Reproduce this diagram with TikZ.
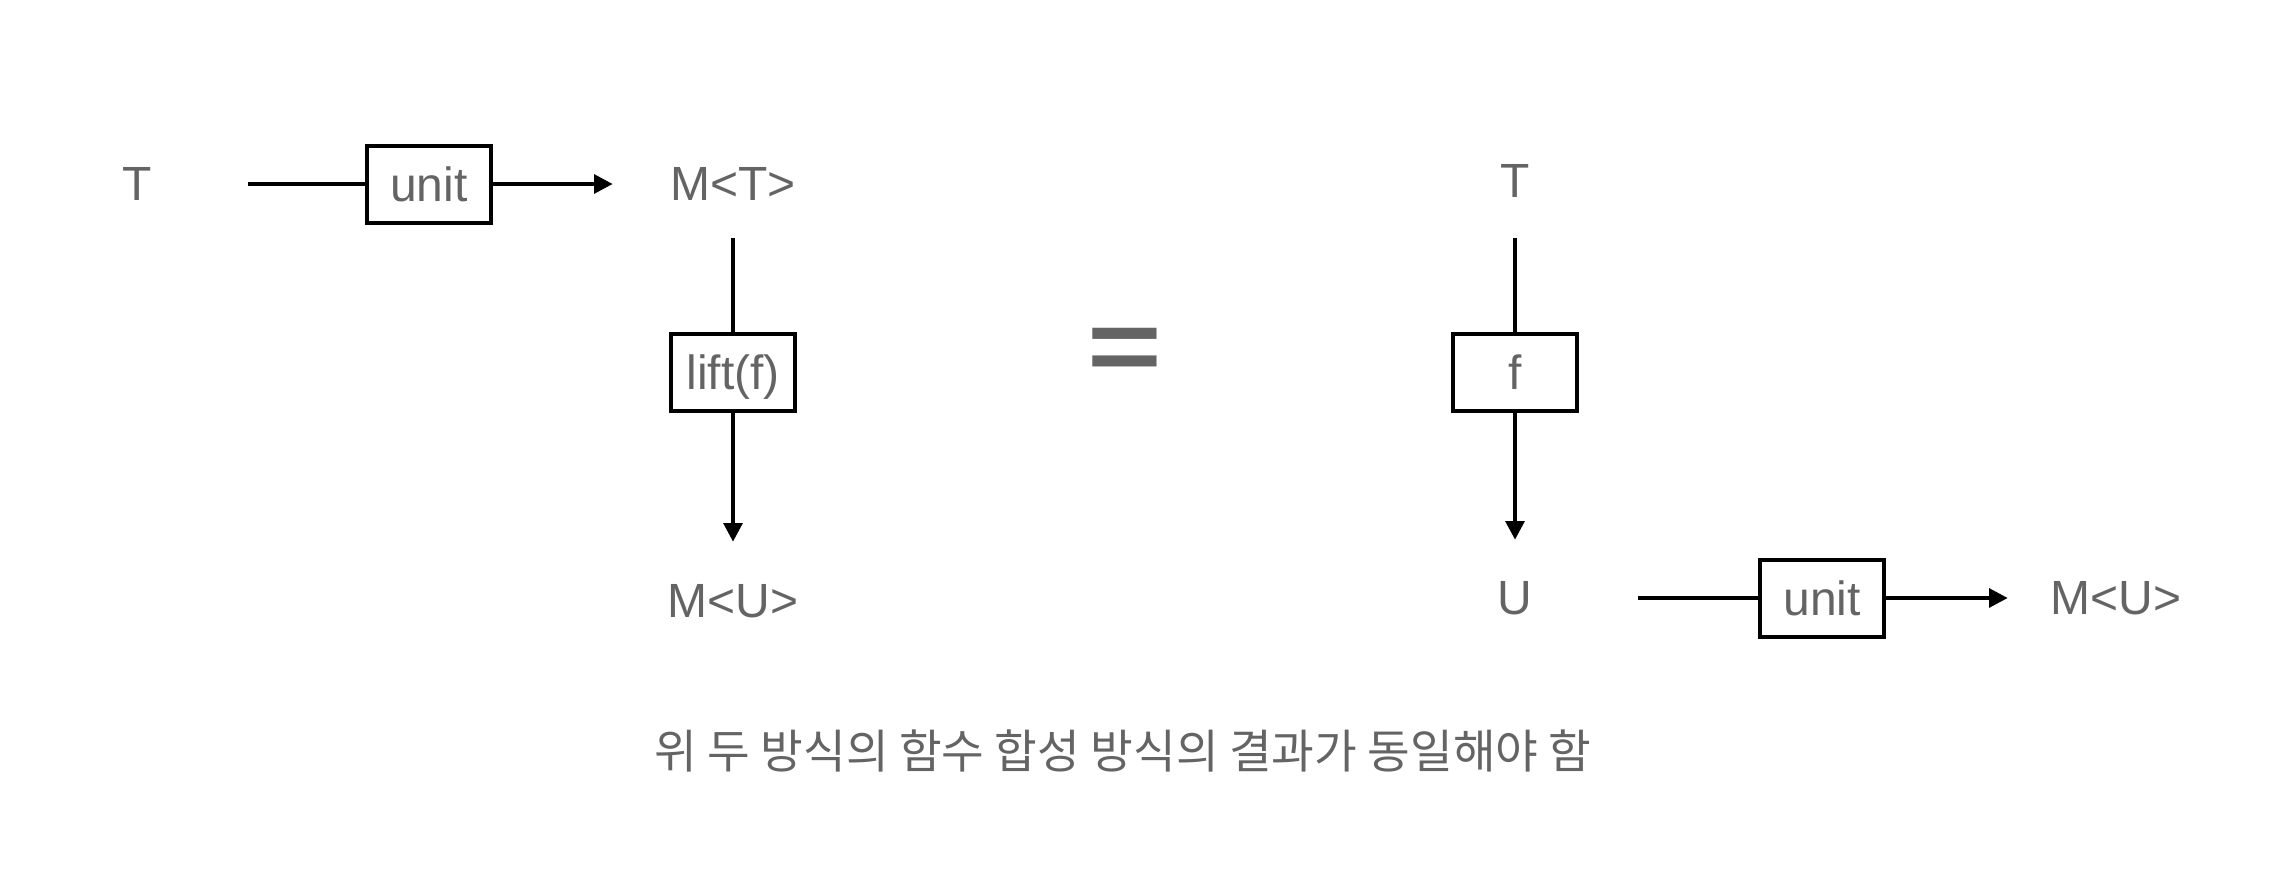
\documentclass[tikz,border=0pt]{standalone}
\usepackage{fontspec}
\usepackage{graphicx}
\setmainfont{Liberation Sans}
\newfontfamily\krfont{Noto Sans CJK KR}
\usetikzlibrary{arrows.meta}
\definecolor{txtgray}{RGB}{100,100,100}
\tikzset{
  lbl/.style={inner sep=0pt, text=txtgray, font=\fontsize{24pt}{28pt}\selectfont},
  fbox/.style={draw=black, line width=2pt, inner sep=0pt, text=txtgray,
    font=\fontsize{24pt}{28pt}\selectfont, minimum width=62pt, minimum height=38.5pt,
    text height=17.3pt, text depth=0pt},
  conn/.style={draw=black, line width=1.6pt},
  arr/.style={conn, -{Triangle[length=9.3pt,width=9.5pt]}}
}
\begin{document}
\begin{tikzpicture}[x=0.5pt,y=-0.5pt]
\useasboundingbox (0,0) rectangle (2278,878);
% left diagram
\node[lbl, minimum width=111pt, minimum height=54pt] (T1) at (137,184) {T};
\node[fbox] (u1) at (429,184) {unit};
\node[lbl, minimum width=120pt, minimum height=54pt] (MT) at (733,184) {M<T>};
\node[fbox] (lf) at (733,372.5) {lift(f)};
\node[lbl, minimum width=120pt, minimum height=59pt] (MU1) at (733,601) {M<U>};
\draw[conn] (T1.east) -- (u1.west);
\draw[arr] (u1.east) -- (MT.west);
\draw[conn] (MT.south) -- (lf.north);
\draw[arr] (lf.south) -- (MU1.north);
% equals
\node[inner sep=0pt, text=txtgray, font=\bfseries\fontsize{64pt}{70pt}\selectfont] (eq) at (1125,355) {\scalebox{1}[0.8]{=}};
% right diagram
\node[lbl, minimum width=30pt, minimum height=57pt] (T2) at (1515,181) {T};
\node[fbox] (fb) at (1515,372) {f};
\node[lbl, minimum width=123pt, minimum height=58pt] (U) at (1515,598) {U};
\node[fbox] (u2) at (1822,598) {unit};
\node[lbl, minimum width=108pt, minimum height=30pt] (MU2) at (2116,598) {M<U>};
\draw[conn] (T2.south) -- (fb.north);
\draw[arr] (fb.south) -- (U.north);
\draw[conn] (U.east) -- (u2.west);
\draw[arr] (u2.east) -- (MU2.west);
% caption
\node[inner sep=0pt, text=txtgray, font=\krfont\fontsize{23.2pt}{27pt}\selectfont] (cap) at (1123,751) {위 두 방식의 함수 합성 방식의 결과가 동일해야 함};
\end{tikzpicture}
\end{document}
